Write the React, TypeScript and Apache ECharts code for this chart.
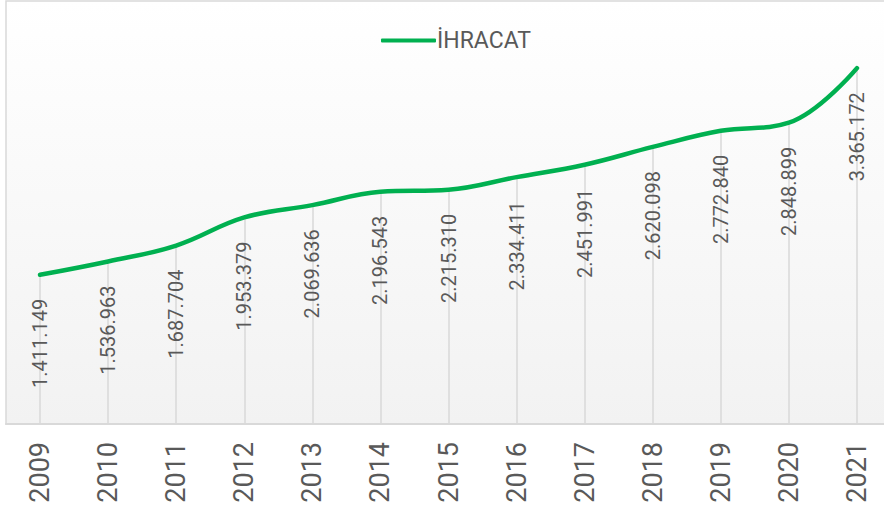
import React, { useEffect, useRef } from "react";
import * as echarts from "echarts";

const years = ["2009", "2010", "2011", "2012", "2013", "2014", "2015", "2016", "2017", "2018", "2019", "2020", "2021"];
const exportsValues = [1411149, 1536963, 1687704, 1953379, 2069636, 2196543, 2215310, 2334411, 2451991, 2620098, 2772840, 2848899, 3365172];
const seriesName = "İHRACAT";

function fmt(v: number): string {
  return String(Math.round(v)).replace(/\B(?=(\d{3})+(?!\d))/g, ".");
}

export default function App() {
  const ref = useRef<HTMLDivElement>(null);
  useEffect(() => {
    if (!ref.current) return;
    const chart = echarts.init(ref.current, undefined, { renderer: "svg" });
    const dropLines = years.map((y, i) => [
      { coord: [y, 0] },
      { coord: [y, exportsValues[i]] },
    ]);
    chart.setOption({
      animation: false,
      backgroundColor: "#ffffff",
      textStyle: { fontFamily: "Roboto" },
      legend: {
        show: true,
        left: 376,
        top: 24,
        itemWidth: 55,
        itemHeight: 4,
        itemGap: 10,
        icon: "roundRect",
        textStyle: { fontSize: 23, color: "#595959", fontFamily: "Roboto", padding: [0, 0, 0, -4] },
        data: [seriesName],
      },
      grid: {
        show: true,
        left: 6,
        top: 1,
        width: 885,
        height: 423,
        outerBoundsMode: "none",
        containLabel: false,
        borderColor: "#d9d9d9",
        borderWidth: 1.5,
        backgroundColor: new echarts.graphic.LinearGradient(0, 0, 0, 1, [
          { offset: 0, color: "#ffffff" },
          { offset: 1, color: "#f2f2f2" },
        ]),
      },
      xAxis: {
        type: "category",
        data: years,
        boundaryGap: true,
        axisLine: { show: true, lineStyle: { color: "#d9d9d9", width: 2 } },
        axisTick: { show: false },
        splitLine: { show: false },
        axisLabel: {
          rotate: 90,
          fontSize: 27,
          color: "#595959",
          margin: 18,
          fontFamily: "Roboto",
        },
      },
      yAxis: {
        type: "value",
        min: 0,
        max: 4000000,
        show: false,
        splitLine: { show: false },
      },
      series: [
        {
          name: seriesName,
          type: "line",
          data: exportsValues,
          smooth: 0.4,
          symbol: "circle",
          symbolSize: 0.01,
          showSymbol: true,
          lineStyle: { color: "#00b050", width: 4.5, cap: "round" },
          itemStyle: { color: "#00b050" },
          z: 3,
          label: {
            show: true,
            position: "bottom",
            distance: 24,
            rotate: 90,
            align: "right",
            verticalAlign: "middle",
            fontSize: 20,
            color: "#595959",
            fontFamily: "Roboto",
            formatter: (p: any) => fmt(p.value),
          },
          labelLayout: { hideOverlap: false },
          markLine: {
            silent: true,
            symbol: ["none", "none"],
            label: { show: false },
            lineStyle: { color: "#d9d9d9", width: 1.5, type: "solid" },
            z: 1,
            data: dropLines,
          },
        },
      ],
    });
    return () => chart.dispose();
  }, []);
  return (
    <div
      ref={ref}
      style={{ position: "absolute", left: 0, top: 0, width: 884, height: 511, background: "#fff" }}
    />
  );
}
